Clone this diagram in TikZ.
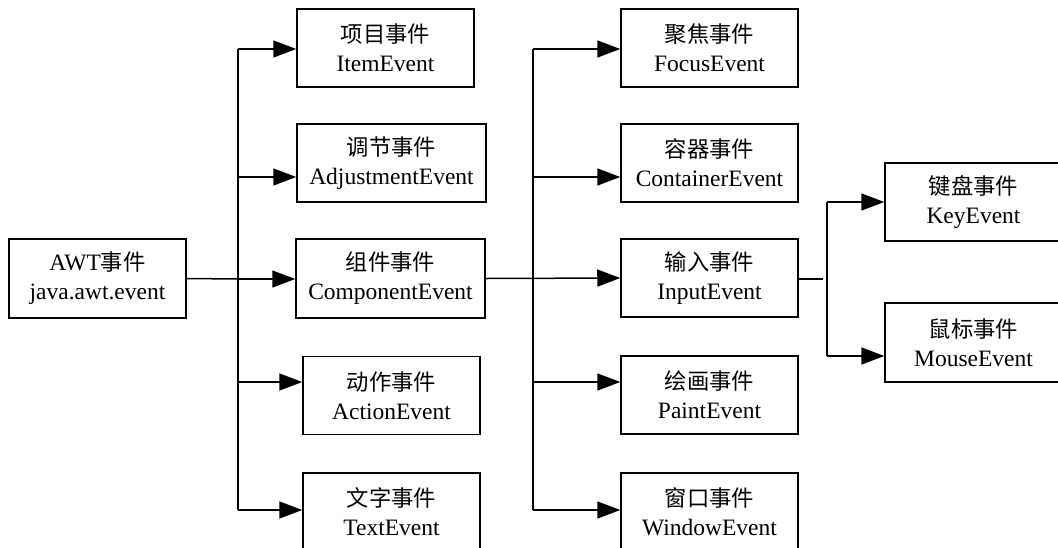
\documentclass[tikz,border=0pt]{standalone}
\usepackage{fontspec}
\setmainfont{Liberation Serif}
\newfontfamily\cjk{Noto Sans CJK SC}[Scale=0.95]
\usetikzlibrary{arrows.meta}
\begin{document}
\begin{tikzpicture}[x=1pt,y=-1pt,
  evbox/.style={draw,line width=1.5pt,inner sep=0pt,minimum height=78pt,
    align=center,font=\fontsize{23.5}{29}\selectfont},
  wire/.style={line width=1.5pt},
  arr/.style={line width=1.5pt,-{Triangle[length=23pt,width=17pt]}}]
\useasboundingbox (0,0) rectangle (1058,547);
\clip (0,0) rectangle (1058,547);

% root node
\node[evbox,minimum width=177pt,minimum height=79pt] (awt) at (97.5,278.5) {AWT{\cjk 事件}\\java.awt.event};

% second level
\node[evbox,minimum width=177pt] (item)  at (385.5,48)    {{\cjk 项目事件}\\ItemEvent};
\node[evbox,minimum width=189pt] (adj)   at (391.5,163)   {{\cjk 调节事件}\\AdjustmentEvent};
\node[evbox,minimum width=189pt,minimum height=79pt] (comp) at (390.5,278.5) {{\cjk 组件事件}\\ComponentEvent};
\node[evbox,minimum width=177pt] (act)   at (391.5,395.5) {{\cjk 动作事件}\\ActionEvent};
\node[evbox,minimum width=177pt] (txt)   at (391.5,512)   {{\cjk 文字事件}\\TextEvent};

% third level
\node[evbox,minimum width=177pt] (focus) at (709.5,48)    {{\cjk 聚焦事件}\\FocusEvent};
\node[evbox,minimum width=177pt] (cont)  at (709.5,163)   {{\cjk 容器事件}\\ContainerEvent};
\node[evbox,minimum width=177pt] (input) at (709.5,278)   {{\cjk 输入事件}\\InputEvent};
\node[evbox,minimum width=177pt] (paint) at (709.5,395)   {{\cjk 绘画事件}\\PaintEvent};
\node[evbox,minimum width=177pt] (win)   at (709.5,512)   {{\cjk 窗口事件}\\WindowEvent};

% fourth level
\node[evbox,minimum width=177pt] (key)   at (973.5,202)   {{\cjk 键盘事件}\\KeyEvent};
\node[evbox,minimum width=177pt,minimum height=79pt] (mouse) at (973.5,342.5) {{\cjk 鼠标事件}\\MouseEvent};

% branch points
\coordinate (a1) at (238,49);
\coordinate (a2) at (238,177);
\coordinate (a3) at (238,279);
\coordinate (a4) at (238,382);
\coordinate (a5) at (238,510);
\coordinate (b1) at (533,49);
\coordinate (b2) at (533,177);
\coordinate (b4) at (533,382);
\coordinate (b5) at (533,510);
\coordinate (c0) at (823,279);
\coordinate (c1) at (827,202);
\coordinate (c2) at (827,356);

% first trunk
\draw[wire] (a1) -- (a5);
\draw[wire] (awt.east) -- (a3);
\draw[arr] (a1) -- (item.west |- a1);
\draw[arr] (a2) -- (adj.west |- a2);
\draw[arr] (a3) -- (comp.west |- a3);
\draw[arr] (a4) -- (act.west |- a4);
\draw[arr] (a5) -- (txt.west |- a5);

% second trunk
\draw[wire] (b1) -- (b5);
\draw[arr] (comp.east) -- (input.west);
\draw[arr] (b1) -- (focus.west |- b1);
\draw[arr] (b2) -- (cont.west |- b2);
\draw[arr] (b4) -- (paint.west |- b4);
\draw[arr] (b5) -- (win.west |- b5);

% third trunk
\draw[wire] (input.east |- c0) -- (c0);
\draw[wire] (c1) -- (c2);
\draw[arr] (c1) -- (key.west |- c1);
\draw[arr] (c2) -- (mouse.west |- c2);
\end{tikzpicture}
\end{document}
